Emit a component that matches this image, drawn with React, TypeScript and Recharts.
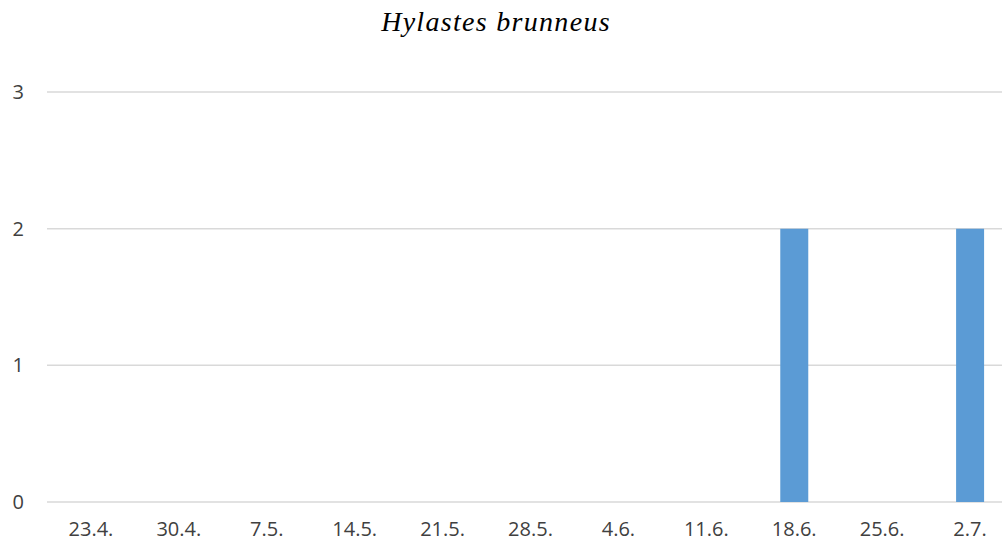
import { BarChart, Bar, XAxis, YAxis, CartesianGrid } from 'recharts'

const dates = ['23.4.', '30.4.', '7.5.', '14.5.', '21.5.', '28.5.', '4.6.', '11.6.', '18.6.', '25.6.', '2.7.']
const counts = [0, 0, 0, 0, 0, 0, 0, 0, 2, 0, 2]
const yTicks = [0, 1, 2, 3]

const data = dates.map((d, i) => ({ date: d, count: counts[i] }))

const tickStyle = { fontSize: 20, fill: '#404040', fontFamily: '"Open Sans", sans-serif' }

export default function App() {
  return (
    <div
      style={{
        position: 'absolute',
        left: 0,
        top: 0,
        width: 1002,
        height: 544,
        overflow: 'hidden',
        background: '#fff',
      }}
    >
      {/* title */}
      <div
        style={{
          position: 'absolute',
          left: 0,
          top: 8,
          width: 992,
          textAlign: 'center',
          fontFamily: '"Liberation Serif", serif',
          fontStyle: 'italic',
          fontSize: 28,
          letterSpacing: 1.3,
          lineHeight: '28px',
          color: '#000',
        }}
      >
        Hylastes brunneus
      </div>
      <BarChart
        width={1014}
        height={544}
        data={data}
        margin={{ top: 92, right: 0, bottom: 0, left: 0 }}
      >
        <CartesianGrid vertical={false} stroke="#d9d9d9" strokeWidth={1.5} />
        <XAxis
          dataKey="date"
          height={42}
          axisLine={false}
          tickLine={false}
          tickSize={0}
          tickMargin={20}
          tick={tickStyle}
          interval={0}
        />
        <YAxis
          width={47}
          domain={[0, 3]}
          ticks={yTicks}
          axisLine={false}
          tickLine={false}
          tickSize={0}
          tickMargin={23}
          tick={tickStyle}
        />
        <Bar dataKey="count" fill="#5b9bd5" barSize={28} isAnimationActive={false} />
      </BarChart>
    </div>
  )
}
